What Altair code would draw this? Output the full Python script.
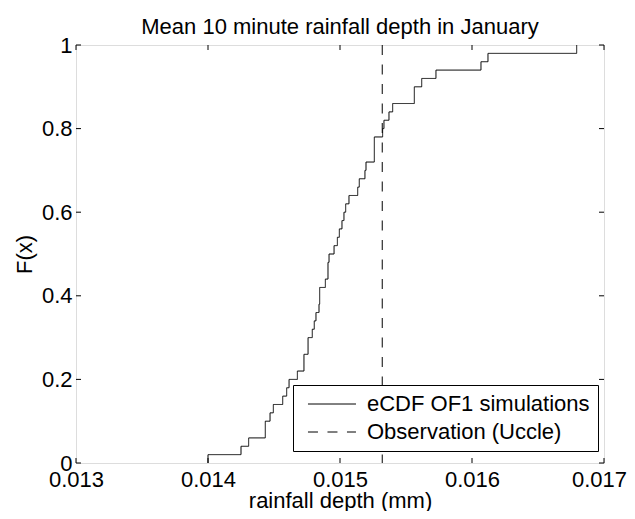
import altair as alt
import pandas as pd

FONT = "Liberation Sans"

# simulated mean 10-minute rainfall depths (mm), 50 simulations, read off the ECDF steps
samples = [0.01400, 0.01425, 0.014308, 0.014434, 0.014434, 0.014470, 0.014495,
           0.014566, 0.014596, 0.014614, 0.014677, 0.014727, 0.014727, 0.014758,
           0.014758, 0.014790, 0.014805, 0.014818, 0.014841, 0.014846, 0.014846,
           0.014889, 0.014909, 0.014909, 0.014917, 0.014955, 0.014980, 0.014995,
           0.015015, 0.015030, 0.015043, 0.015068, 0.015134, 0.015146, 0.015189,
           0.015197, 0.015260, 0.015260, 0.015260, 0.015323, 0.015333, 0.015371,
           0.015399, 0.015563, 0.015563, 0.015619, 0.015727, 0.016068, 0.016121,
           0.016793]
observation = [0.01532]
series_names = ["eCDF OF1 simulations", "Observation (Uccle)"]
x_ticks = [0.013, 0.014, 0.015, 0.016, 0.017]
y_ticks = [0, 0.2, 0.4, 0.6, 0.8, 1]
title_text = ["Mean 10 minute rainfall depth in January"]

W, H = 528, 418
TICK = 5

# empirical CDF table
s = pd.Series(sorted(samples))
counts = s.value_counts().sort_index()
n = len(samples)
xs = [counts.index[0]] + list(counts.index)
fs = [0.0] + list(counts.cumsum() / n)
ecdf = pd.DataFrame({"x": xs, "F": fs, "i": range(len(xs)), "series": series_names[0]})
obs = pd.DataFrame({"x": observation, "series": series_names[1]})

xscale = alt.Scale(domain=[x_ticks[0], x_ticks[-1]], nice=False, zero=False)
yscale = alt.Scale(domain=[y_ticks[0], y_ticks[-1]], nice=False, zero=False)
dash = alt.Scale(domain=series_names, range=[[1, 0], [10, 9.5]])

xaxis = alt.Axis(values=x_ticks, format=".3f", ticks=False, domain=False, grid=False,
                 labelFontSize=22, labelFont=FONT, labelColor="black", labelPadding=6,
                 labelFlush=False, labelOverlap=False,
                 labelOffset={"condition": {"test": "datum.value > 0.0169", "value": -5},
                              "value": 0},
                 title="rainfall depth (mm)", titleFontSize=22, titleFont=FONT,
                 titleFontWeight="normal", titleColor="black",
                 titleBaseline="alphabetic", titleY=44)
yaxis = alt.Axis(values=y_ticks, format="~g", ticks=False, domain=False, grid=False,
                 labelFontSize=22, labelFont=FONT, labelColor="black", labelPadding=4,
                 labelFlush=False, labelOverlap=False,
                 title="F(x)", titleFontSize=22, titleFont=FONT,
                 titleFontWeight="normal", titleColor="black", titlePadding=5)

legend = alt.Legend(title=None, orient="none", legendX=217, legendY=340,
                    symbolType="M-0.67,0H7.33", symbolSize=144, symbolStrokeWidth=1,
                    symbolStrokeColor="black", labelFontSize=22, labelFont=FONT,
                    labelColor="black", labelLimit=0, strokeColor="black",
                    fillColor="white", padding=8, rowPadding=6, labelOffset=44)

line = alt.Chart(ecdf).mark_line(interpolate="step-after", color="black", strokeWidth=1).encode(
    x=alt.X("x:Q", scale=xscale, axis=xaxis),
    y=alt.Y("F:Q", scale=yscale, axis=yaxis),
    order="i:Q",
    strokeDash=alt.StrokeDash("series:N", scale=dash, legend=legend),
)

rule = alt.Chart(obs).mark_rule(color="black", strokeWidth=1).encode(
    x=alt.X("x:Q", scale=xscale),
    strokeDash=alt.StrokeDash("series:N", scale=dash, legend=legend),
)

xt = pd.DataFrame({"v": x_ticks})
yt = pd.DataFrame({"v": y_ticks})
xt_bottom = alt.Chart(xt).mark_rule(color="black").encode(
    x=alt.X("v:Q", scale=xscale), y=alt.value(H), y2=alt.value(H - TICK))
xt_top = alt.Chart(xt).mark_rule(color="black").encode(
    x=alt.X("v:Q", scale=xscale), y=alt.value(0), y2=alt.value(TICK))
yt_left = alt.Chart(yt).mark_rule(color="black").encode(
    y=alt.Y("v:Q", scale=yscale), x=alt.value(0), x2=alt.value(TICK))
yt_right = alt.Chart(yt).mark_rule(color="black").encode(
    y=alt.Y("v:Q", scale=yscale), x=alt.value(W), x2=alt.value(W - TICK))

title = alt.Chart(pd.DataFrame({"t": title_text})).mark_text(
    fontSize=22, font=FONT, color="black", align="center", baseline="alphabetic"
).encode(text="t:N", x=alt.value(W / 2), y=alt.value(-11))

chart = alt.layer(xt_bottom, xt_top, yt_left, yt_right, line, rule, title).properties(
    width=W, height=H,
    autosize=alt.AutoSizeParams(type="none"),
    padding={"left": 68, "top": 37, "right": 23, "bottom": 48},
).configure_view(stroke="black", strokeWidth=1).configure(background="white")

chart.save("out.html", embed_options={"renderer": "svg", "actions": False})
